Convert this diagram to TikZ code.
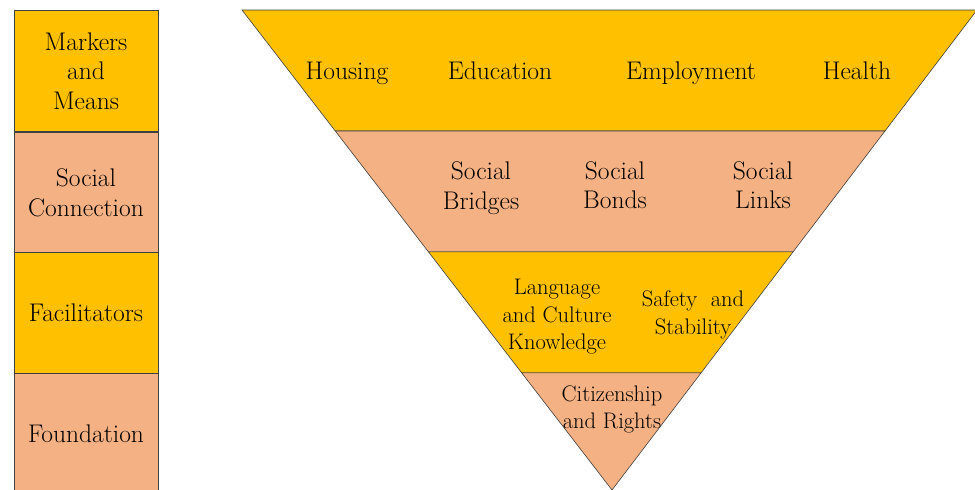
\documentclass[tikz,border=0pt]{standalone}
\usetikzlibrary{calc}
\definecolor{gold}{HTML}{FFC000}
\definecolor{peach}{HTML}{F4B183}
\tikzset{
	rule/.style={draw=black!75,line width=0.6pt},
	band/.style={rule,minimum width=144pt,minimum height=121pt,inner sep=0pt,align=center,font=\fontsize{25.5}{29.5}\selectfont},
	big/.style={align=center,font=\fontsize{25.5}{29.5}\selectfont},
	small/.style={align=center,font=\fontsize{22.5}{27.5}\selectfont},
}
\begin{document}
\begin{tikzpicture}[x=1pt,y=-1pt]
	\useasboundingbox(0,0)rectangle(975,490);
	% left column
	\node[band,fill=gold](markers)at(86,71){Markers\\and\\Means};
	\node[band,fill=peach](connection)at(86,193){Social\\Connection};
	\node[band,fill=gold](facilitators)at(86,313){Facilitators};
	\node[band,fill=peach](foundation)at(86,434){Foundation};
	% triangle
	\coordinate(tl)at(242,10);
	\coordinate(tr)at(977,10);
	\coordinate(ap)at(612,490);
	\coordinate(l1)at($(tl)!0.252!(ap)$);
	\coordinate(r1)at($(tr)!0.252!(ap)$);
	\coordinate(l2)at($(tl)!0.504!(ap)$);
	\coordinate(r2)at($(tr)!0.504!(ap)$);
	\coordinate(l3)at($(tl)!0.756!(ap)$);
	\coordinate(r3)at($(tr)!0.756!(ap)$);
	\draw[rule,fill=gold](tl)--(tr)--(r1)--(l1)--cycle;
	\draw[rule,fill=peach](l1)--(r1)--(r2)--(l2)--cycle;
	\draw[rule,fill=gold](l2)--(r2)--(r3)--(l3)--cycle;
	\draw[rule,fill=peach](l3)--(r3)--(ap)--cycle;
	% markers and means
	\node[big,anchor=base](housing)at(347,79){Housing};
	\node[big,anchor=base](education)at(500,79){Education};
	\node[big,anchor=base](employment)at(691,79){Employment};
	\node[big,anchor=base](health)at(857,79){Health};
	% social connection
	\node[big](bridges)at(481,188){Social\\Bridges};
	\node[big](bonds)at(615,185){Social\\Bonds};
	\node[big](links)at(763,185){Social\\Links};
	% facilitators
	\node[small](language)at(557,317){Language\\and Culture\\Knowledge};
	\node[small](safety)at(693,315){Safety\ \ and\\Stability};
	% foundation
	\node[small](citizenship)at(612,409.5){Citizenship\\and\ Rights};
\end{tikzpicture}
\end{document}
